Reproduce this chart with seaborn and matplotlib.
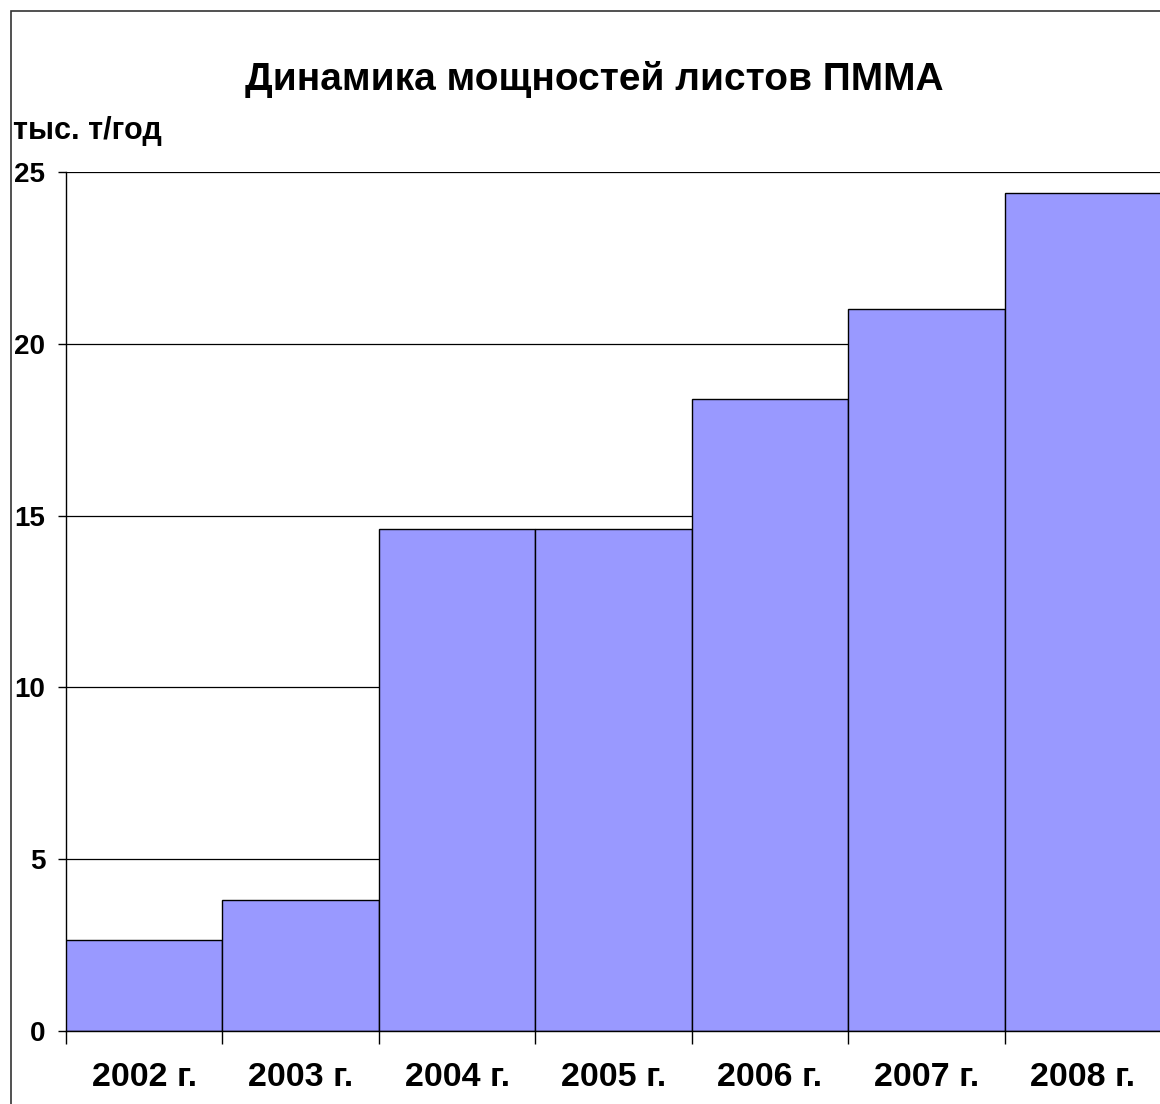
import matplotlib
matplotlib.use("Agg")
import matplotlib.pyplot as plt
from matplotlib.patches import Rectangle
import seaborn as sns
import pandas as pd

years = ["2002 г.", "2003 г.", "2004 г.", "2005 г.", "2006 г.", "2007 г.", "2008 г."]
capacity = [2.65, 3.8, 14.6, 14.6, 18.4, 21.0, 24.4]
y_ticks = [0, 5, 10, 15, 20, 25]

title_text = "Динамика мощностей листов ПММА"
unit_text = "тыс. т/год"

sns.set_theme(style="white")
plt.rcParams["font.family"] = ["Liberation Sans", "DejaVu Sans"]
plt.rcParams["font.weight"] = "bold"
for key in ("text.color", "xtick.color", "ytick.color", "axes.labelcolor"):
    plt.rcParams[key] = "black"

df = pd.DataFrame({"year": years, "capacity": capacity})

fig = plt.figure(figsize=(11.6, 11.04), dpi=100)
fig.patch.set_facecolor("white")
W, H = 1160, 1104
ax = fig.add_axes([66 / W, 1 - 1031 / H, (1161 - 66) / W, (1031 - 172) / H])

sns.barplot(data=df, x="year", y="capacity", color="#9999FF", saturation=1,
            width=1.0, edgecolor="black", linewidth=1.0, ax=ax, zorder=3)

ax.set_xlim(-0.5, len(years) - 0.5)
ax.set_ylim(0, 25)
ax.set_yticks(y_ticks)
ax.set_yticklabels([str(t) for t in y_ticks], fontsize=20, fontweight="bold",
                   color="black")

# tick marks on category boundaries, labels centred under each bar
ax.set_xticks([i - 0.5 for i in range(len(years) + 1)])
ax.set_xticklabels([])
ax.set_xticks(range(len(years)), minor=True)
ax.set_xticklabels(years, minor=True, fontsize=24.5, fontweight="bold",
                   color="black")
ax.tick_params(axis="x", which="major", direction="out", length=9, width=1.0,
               color="black", bottom=True)
ax.tick_params(axis="x", which="minor", length=0, pad=22)
ax.tick_params(axis="y", direction="out", length=6, width=1.0, color="black",
               left=True, pad=9)

ax.set_xlabel("")
ax.set_ylabel("")
ax.yaxis.grid(True, color="black", linewidth=0.9, zorder=0)
ax.set_axisbelow(True)
for side in ("top", "right"):
    ax.spines[side].set_visible(False)
for side in ("left", "bottom"):
    ax.spines[side].set_color("black")
    ax.spines[side].set_linewidth(1.0)
ax.spines["bottom"].set_zorder(4)

fig.text(594 / W, 1 - 80 / H, title_text, ha="center", va="center",
         fontsize=28, fontweight="bold", color="black")
fig.text(13 / W, 1 - 131 / H, unit_text, ha="left", va="center",
         fontsize=22, fontweight="bold", color="black")

# chart frame
fig.add_artist(Rectangle((11 / W, -0.1), 2.0, 1.1 - 11 / H,
                         transform=fig.transFigure, fill=False,
                         edgecolor="#333333", linewidth=1.2))

fig.savefig("out.png", dpi=100)
